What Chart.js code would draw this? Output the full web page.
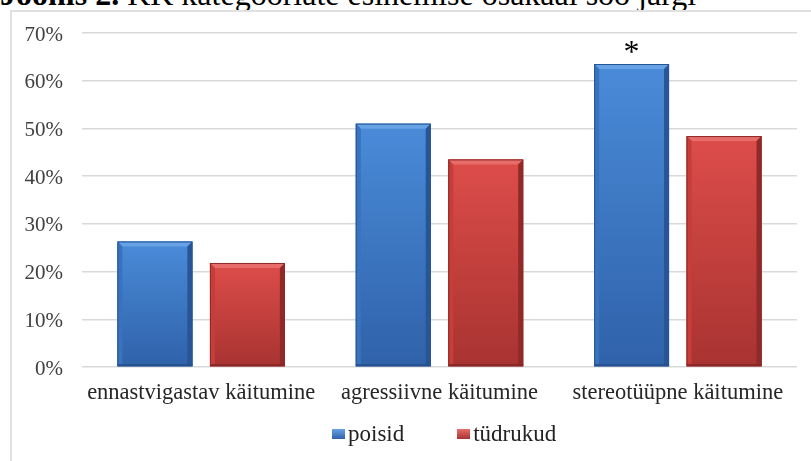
<!DOCTYPE html>
<html>
<head>
<meta charset="utf-8">
<script src="https://cdn.jsdelivr.net/npm/chart.js@4"></script>
<style>
  html, body { margin: 0; padding: 0; background: #fff; overflow: hidden; }
  body { width: 811px; height: 461px; position: relative; font-family: "Liberation Serif", "Times New Roman", serif; }
  #title { position: absolute; left: 0; top: -22px; font-size: 32px; line-height: 32px; white-space: nowrap; color: #000; }
  #frame { position: absolute; left: 10px; top: 10px; width: 900px; height: 520px; border: 2px solid #e0e0e0; }
  #wrap { position: absolute; left: 0; top: 0; width: 811px; height: 461px; }
  #legend { position: absolute; left: 332px; top: 420px; font-size: 23px; line-height: 27px; color: #222; white-space: nowrap; }
  #legend span.item { display: inline-block; margin-right: 53px; }
  #legend i { display: inline-block; width: 13px; height: 10px; margin-right: 3px; vertical-align: 2px; }
</style>
</head>
<body>
<div id="title"><b>Joonis 2.</b> KK kategooriate esinemise osakaal soo järgi</div>
<div id="frame"></div>
<div id="wrap"><canvas id="chart" width="811" height="461"></canvas></div>
<div id="legend"></div>
<script>
// andmed (protsent)
const categories = ["ennastvigastav käitumine", "agressiivne käitumine", "stereotüüpne käitumine"];
const poisid = [26.3, 51.0, 63.5];
const tudrukud = [21.8, 43.5, 48.4];
const poisidMarks = ["", "", "*"];
const seriesNames = ["poisid", "tüdrukud"];

const palettes = [
  { base: "#3c78c4", top: "#4a8bd9", bottom: "#2f62a9", light: "#67a1e6", left: "#3a73bd", right: "#285595", low: "#244d88" },
  { base: "#cc3f3c", top: "#dd4d4a", bottom: "#a83331", light: "#e66d6a", left: "#c63d3a", right: "#8e2a28", low: "#802624" }
];

// 3D-laadne reljeef tulpadele
const bevel = {
  id: "bevel",
  afterDatasetsDraw(chart) {
    const ctx = chart.ctx;
    chart.data.datasets.forEach((ds, i) => {
      const pal = palettes[i];
      chart.getDatasetMeta(i).data.forEach((bar, j) => {
        const p = bar.getProps(["x", "y", "base", "width"], true);
        const l = p.x - p.width / 2, r = p.x + p.width / 2, t = p.y, b = p.base;
        const e = 5;
        ctx.save();
        let g = ctx.createLinearGradient(0, t, 0, b);
        g.addColorStop(0, pal.top);
        g.addColorStop(1, pal.bottom);
        ctx.fillStyle = g;
        ctx.fillRect(l, t, r - l, b - t);

        ctx.fillStyle = pal.light;
        ctx.beginPath();
        ctx.moveTo(l, t); ctx.lineTo(r, t); ctx.lineTo(r - e, t + e); ctx.lineTo(l + e, t + e);
        ctx.closePath(); ctx.fill();

        ctx.fillStyle = pal.left;
        ctx.beginPath();
        ctx.moveTo(l, t); ctx.lineTo(l + e, t + e); ctx.lineTo(l + e, b - 2); ctx.lineTo(l, b);
        ctx.closePath(); ctx.fill();

        ctx.fillStyle = pal.right;
        ctx.beginPath();
        ctx.moveTo(r, t); ctx.lineTo(r - e, t + e); ctx.lineTo(r - e, b - 2); ctx.lineTo(r, b);
        ctx.closePath(); ctx.fill();

        ctx.fillStyle = pal.low;
        ctx.fillRect(l, b - 2, r - l, 2);

        ctx.strokeStyle = pal.right;
        ctx.lineWidth = 1;
        ctx.strokeRect(l + 0.5, t + 0.5, r - l - 1, b - t - 1);
        ctx.restore();

        // tärn olulise erinevuse juurde
        if (i === 0 && poisidMarks[j]) {
          ctx.save();
          ctx.fillStyle = "#000";
          ctx.font = "32px 'Liberation Serif'";
          ctx.textAlign = "center";
          ctx.textBaseline = "alphabetic";
          ctx.fillText(poisidMarks[j], p.x, t - 2);
          ctx.restore();
        }
      });
    });
  }
};

const chart = new Chart(document.getElementById("chart"), {
  type: "bar",
  data: {
    labels: categories,
    datasets: [
      { label: seriesNames[0], data: poisid, backgroundColor: palettes[0].base },
      { label: seriesNames[1], data: tudrukud, backgroundColor: palettes[1].base }
    ]
  },
  options: {
    responsive: false,
    animation: false,
    categoryPercentage: 0.776,
    barPercentage: 0.81,
    layout: { padding: { left: 10, right: 14, top: 33, bottom: 41 } },
    plugins: {
      legend: { display: false },
      tooltip: { enabled: false }
    },
    scales: {
      x: {
        grid: { display: false, drawTicks: false },
        border: { display: false },
        ticks: { padding: 13, color: "#262626", font: { family: "Liberation Serif", size: 22.5 } }
      },
      y: {
        min: 0,
        max: 70,
        afterFit(scale) { scale.width = 72; },
        grid: { color: "#d9d9d9", lineWidth: 1.5, drawTicks: false },
        border: { display: false },
        ticks: {
          stepSize: 10,
          padding: 19,
          labelOffset: 2,
          color: "#404040",
          font: { family: "Liberation Serif", size: 21 },
          callback: v => v + "%"
        }
      }
    }
  },
  plugins: [bevel]
});

// legend
const legend = document.getElementById("legend");
seriesNames.forEach((name, i) => {
  const item = document.createElement("span");
  item.className = "item";
  const box = document.createElement("i");
  box.style.background = "linear-gradient(" + palettes[i].light + "," + palettes[i].bottom + ")";
  item.appendChild(box);
  item.appendChild(document.createTextNode(name));
  legend.appendChild(item);
});
</script>
</body>
</html>
